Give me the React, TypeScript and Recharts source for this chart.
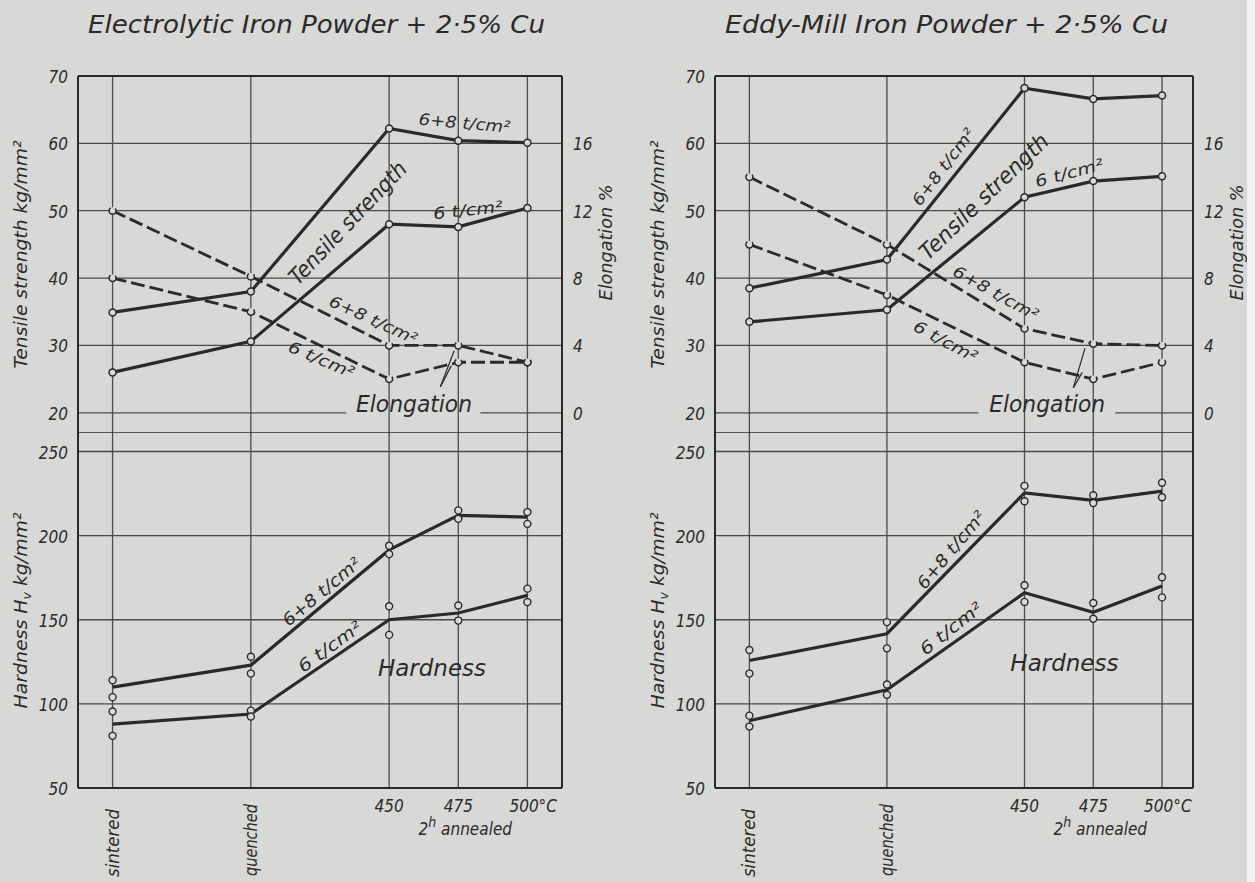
import React from "react";
import { ComposedChart, Line, Scatter, XAxis, YAxis, ReferenceLine, ReferenceDot } from "recharts";

// treatment stages along the bottom axis
const stageLabels = ["sintered", "quenched", "450", "475", "500°C"];
const stageX = [0, 2, 4, 5, 6];

const tsTicks = [20, 30, 40, 50, 60, 70];
const elongTicks = [0, 4, 8, 12, 16];
const hvTicks = [50, 100, 150, 200, 250];

// Electrolytic iron powder + 2.5% Cu
const elecTs68 = [34.9, 38.0, 62.2, 60.4, 60.1];
const elecTs6 = [26.0, 30.6, 48.0, 47.6, 50.4];
const elecElong68 = [12.0, 8.1, 4.0, 4.0, 3.0];
const elecElong6 = [8.0, 6.0, 2.0, 3.0, 3.0];
const elecHv68 = [110, 123, 191.5, 212, 211];
const elecHv6 = [88, 94, 150, 154, 164.5];
const elecHv68Single = [[114, 104], [128, 118], [194, 189], [215, 210], [214, 207]];
const elecHv6Single = [[95.5, 81], [96, 92.5], [158, 141], [158.5, 149.5], [168.5, 160.5]];

// Eddy-mill iron powder + 2.5% Cu
const eddyTs68 = [38.5, 42.75, 68.2, 66.6, 67.1];
const eddyTs6 = [33.5, 35.3, 52.0, 54.4, 55.1];
const eddyElong68 = [14.0, 10.0, 5.0, 4.1, 4.0];
const eddyElong6 = [10.0, 7.0, 3.0, 2.0, 3.0];
const eddyHv68 = [125.8, 141.7, 225.4, 221, 226.5];
const eddyHv6 = [90, 108.4, 166, 154.4, 170];
const eddyHv68Single = [[132, 118], [148.6, 133], [229.6, 220.4], [224, 219.4], [231.4, 222.8]];
const eddyHv6Single = [[93, 86.5], [111.5, 105.4], [170.5, 160.6], [160, 150.6], [175.3, 163.3]];

const BG = "#d8d8d6";
const INK = "#2a2a2a";
const GRID = "#4a4a4a";
const FONT = "'Liberation Sans Narrow', 'DejaVu Sans Condensed', 'Open Sans', Arial, sans-serif";

const TOP = 76;
const MID = 433;
const BOTTOM = 788;
const TS_DOMAIN = [17, 70];
const EL_DOMAIN = [-1.2, 20];
const HV_DOMAIN = [50, 261];

const rows = (vals: number[]) => vals.map((v, i) => ({ x: stageX[i], y: v }));
const singleRows = (pairs: number[][]) =>
  pairs.flatMap((p, i) => p.map((v) => ({ x: stageX[i], y: v })));

const dot = { r: 3.5, fill: BG, stroke: INK, strokeWidth: 1.5 };

function Note({ cx, cy, text, angle = 0, size = 16, length, base = false }: any) {
  return (
    <text
      x={cx}
      y={cy}
      transform={`rotate(${angle} ${cx} ${cy})`}
      textAnchor="middle"
      dominantBaseline={base ? "auto" : "central"}
      fontSize={size}
      fontStyle="italic"
      fontFamily={FONT}
      fill={INK}
      textLength={length}
      lengthAdjust={length ? "spacingAndGlyphs" : undefined}
    >
      {text}
    </text>
  );
}

const tickStyle = { fontSize: 17, fontStyle: "italic", fontFamily: FONT, fill: INK } as const;

const LeftTick = (p: any) => (
  <text x={p.x} y={p.y} dy={7} textAnchor="end" {...tickStyle}>
    {p.payload.value}
  </text>
);

const RightTick = (p: any) => (
  <text x={p.x} y={p.y} dy={7} textAnchor="start" {...tickStyle}>
    {p.payload.value}
  </text>
);

function StageTick(p: any) {
  const i = stageX.indexOf(p.payload.value);
  const label = stageLabels[i];
  if (i < 2) {
    const ax = p.x + 6;
    const ay = p.y + (i === 0 ? 21 : 16);
    return (
      <text
        x={ax}
        y={ay}
        transform={`rotate(-90 ${ax} ${ay})`}
        textAnchor="end"
        textLength={i === 0 ? 68 : 72}
        lengthAdjust="spacingAndGlyphs"
        {...tickStyle}
      >
        {label}
      </text>
    );
  }
  return (
    <g>
      <text x={i === 4 ? p.x - 18 : p.x} y={p.y + 24} textAnchor={i === 4 ? "start" : "middle"} {...tickStyle}>
        {label}
      </text>
      {i === 3 && (
        <text x={p.x + 7} y={p.y + 47} textAnchor="middle" {...tickStyle}>
          <tspan>2</tspan>
          <tspan dy={-8} fontSize={14}>h</tspan>
          <tspan dy={8}> annealed</tspan>
        </text>
      )}
    </g>
  );
}

type Label = { text: string; x: number; y: number; angle?: number; size?: number; length?: number };

type PanelProps = {
  title: string;
  titleX: number;
  titleW: number;
  plotLeft: number;
  plotRight: number;
  xMax: number;
  ts68: number[];
  ts6: number[];
  el68: number[];
  el6: number[];
  hv68: number[];
  hv6: number[];
  hv68Single: number[][];
  hv6Single: number[][];
  upperNotes: Label[];
  lowerNotes: Label[];
  elongNote: { x: number; y: number };
  gap: [number, number];
  arrows: { x: number; y: number }[][];
};

function Panel(props: PanelProps) {
  const { plotLeft, plotRight, xMax } = props;
  const plotW = plotRight - plotLeft;
  const xDomain = [-0.5, xMax];

  const frameX = [-0.5, xMax];

  return (
    <>
      <svg style={{ position: "absolute", left: 0, top: 0 }} width={1255} height={60}>
        <text
          x={props.titleX}
          y={33}
          fontSize={24}
          fontStyle="italic"
          fontFamily={FONT}
          fill={INK}
          textLength={props.titleW}
          lengthAdjust="spacingAndGlyphs"
        >
          {props.title}
        </text>
      </svg>

      {/* tensile strength and elongation */}
      <div style={{ position: "absolute", left: plotLeft - 70, top: TOP - 36 }}>
        <ComposedChart
          width={plotW + 140}
          height={MID - (TOP - 36)}
          margin={{ top: 36, right: 0, bottom: 0, left: 0 }}
        >
          <XAxis dataKey="x" type="number" domain={xDomain} ticks={stageX} allowDataOverflow hide />
          <YAxis
            yAxisId="ts"
            type="number"
            domain={TS_DOMAIN}
            ticks={tsTicks}
            allowDataOverflow
            width={70}
            axisLine={false}
            tickLine={false}
            tickSize={0}
            tickMargin={10}
            tick={LeftTick}
            label={{
              content: (p: any) => {
                const vb = p.viewBox;
                const x = vb.x + 19;
                const y = vb.y + vb.height / 2;
                return (
                  <text
                    x={x}
                    y={y}
                    transform={`rotate(-90 ${x} ${y})`}
                    textAnchor="middle"
                    textLength={228}
                    lengthAdjust="spacingAndGlyphs"
                    {...tickStyle}
                    fontSize={18}
                  >
                    Tensile strength  kg/mm²
                  </text>
                );
              },
            }}
          />
          <YAxis
            yAxisId="el"
            orientation="right"
            type="number"
            domain={EL_DOMAIN}
            ticks={elongTicks}
            allowDataOverflow
            width={70}
            axisLine={false}
            tickLine={false}
            tickSize={0}
            tickMargin={11}
            tick={RightTick}
            label={{
              content: (p: any) => {
                const vb = p.viewBox;
                const x = vb.x + 50;
                const y = vb.y + vb.height / 2 - 12;
                return (
                  <text
                    x={x}
                    y={y}
                    transform={`rotate(-90 ${x} ${y})`}
                    textAnchor="middle"
                    textLength={116}
                    lengthAdjust="spacingAndGlyphs"
                    {...tickStyle}
                  >
                    Elongation  %
                  </text>
                );
              },
            }}
          />

          {stageX.map((v) => (
            <ReferenceLine key={`v${v}`} yAxisId="ts" x={v} stroke={GRID} strokeWidth={1.3} />
          ))}
          {tsTicks.slice(1, -1).map((v) => (
            <ReferenceLine key={`h${v}`} yAxisId="ts" y={v} stroke={GRID} strokeWidth={1.3} />
          ))}
          <ReferenceLine
            yAxisId="ts"
            segment={[{ x: -0.5, y: 20 }, { x: props.gap[0], y: 20 }]}
            stroke={GRID}
            strokeWidth={1.3}
          />
          <ReferenceLine
            yAxisId="ts"
            segment={[{ x: props.gap[1], y: 20 }, { x: xMax, y: 20 }]}
            stroke={GRID}
            strokeWidth={1.3}
          />
          {frameX.map((v) => (
            <ReferenceLine key={`f${v}`} yAxisId="ts" x={v} stroke={INK} strokeWidth={2} />
          ))}
          <ReferenceLine yAxisId="ts" y={TS_DOMAIN[1]} stroke={INK} strokeWidth={2} />
          <ReferenceLine yAxisId="ts" y={TS_DOMAIN[0]} stroke={INK} strokeWidth={1.6} />

          {props.arrows.map((seg, i) => (
            <ReferenceLine key={`a${i}`} yAxisId="ts" segment={seg} stroke={INK} strokeWidth={1.2} />
          ))}

          <Line yAxisId="el" data={rows(props.el68)} dataKey="y" type="linear" stroke={INK} strokeWidth={2.8} strokeDasharray="14 5" dot={dot} isAnimationActive={false} />
          <Line yAxisId="el" data={rows(props.el6)} dataKey="y" type="linear" stroke={INK} strokeWidth={2.8} strokeDasharray="14 5" dot={dot} isAnimationActive={false} />
          <Line yAxisId="ts" data={rows(props.ts68)} dataKey="y" type="linear" stroke={INK} strokeWidth={3.2} dot={dot} isAnimationActive={false} />
          <Line yAxisId="ts" data={rows(props.ts6)} dataKey="y" type="linear" stroke={INK} strokeWidth={3.2} dot={dot} isAnimationActive={false} />

          {props.upperNotes.map((n, i) => (
            <ReferenceDot
              key={`n${i}`}
              yAxisId="ts"
              x={n.x}
              y={n.y}
              r={0}
              shape={(p: any) => <Note cx={p.cx} cy={p.cy} text={n.text} angle={n.angle} size={n.size} length={n.length} />}
            />
          ))}
          <ReferenceDot
            yAxisId="ts"
            x={props.elongNote.x}
            y={props.elongNote.y}
            r={0}
            shape={(p: any) => <Note cx={p.cx} cy={p.cy} text="Elongation" size={23} length={116} base />}
          />
        </ComposedChart>
      </div>

      {/* hardness */}
      <div style={{ position: "absolute", left: plotLeft - 70, top: MID }}>
        <ComposedChart
          width={plotW + 140}
          height={882 - MID}
          margin={{ top: 0, right: 70, bottom: 0, left: 0 }}
        >
          <XAxis
            dataKey="x"
            type="number"
            domain={xDomain}
            ticks={stageX}
            allowDataOverflow
            height={882 - BOTTOM}
            axisLine={false}
            tickLine={false}
            tickSize={0}
            tickMargin={0}
            tick={StageTick}
            interval={0}
          />
          <YAxis
            yAxisId="hv"
            type="number"
            domain={HV_DOMAIN}
            ticks={hvTicks}
            allowDataOverflow
            width={70}
            axisLine={false}
            tickLine={false}
            tickSize={0}
            tickMargin={10}
            tick={LeftTick}
            label={{
              content: (p: any) => {
                const vb = p.viewBox;
                const x = vb.x + 19;
                const y = vb.y + vb.height / 2;
                return (
                  <text
                    x={x}
                    y={y}
                    transform={`rotate(-90 ${x} ${y})`}
                    textAnchor="middle"
                    textLength={196}
                    lengthAdjust="spacingAndGlyphs"
                    {...tickStyle}
                    fontSize={18}
                  >
                    <tspan>Hardness  H</tspan>
                    <tspan dy={4} fontSize={12}>v</tspan>
                    <tspan dy={-4}>  kg/mm²</tspan>
                  </text>
                );
              },
            }}
          />

          {stageX.map((v) => (
            <ReferenceLine key={`v${v}`} yAxisId="hv" x={v} stroke={GRID} strokeWidth={1.3} />
          ))}
          {hvTicks.slice(1).map((v) => (
            <ReferenceLine key={`h${v}`} yAxisId="hv" y={v} stroke={GRID} strokeWidth={1.3} />
          ))}
          {frameX.map((v) => (
            <ReferenceLine key={`f${v}`} yAxisId="hv" x={v} stroke={INK} strokeWidth={2} />
          ))}
          <ReferenceLine yAxisId="hv" y={HV_DOMAIN[0]} stroke={INK} strokeWidth={2} />

          <Line yAxisId="hv" data={rows(props.hv68)} dataKey="y" type="linear" stroke={INK} strokeWidth={3.2} dot={false} isAnimationActive={false} />
          <Line yAxisId="hv" data={rows(props.hv6)} dataKey="y" type="linear" stroke={INK} strokeWidth={3.2} dot={false} isAnimationActive={false} />
          <Scatter
            yAxisId="hv"
            data={singleRows(props.hv68Single)}
            dataKey="y"
            isAnimationActive={false}
            shape={(p: any) => <circle cx={p.cx} cy={p.cy} r={3.5} fill={BG} stroke={INK} strokeWidth={1.4} />}
          />
          <Scatter
            yAxisId="hv"
            data={singleRows(props.hv6Single)}
            dataKey="y"
            isAnimationActive={false}
            shape={(p: any) => <circle cx={p.cx} cy={p.cy} r={3.5} fill={BG} stroke={INK} strokeWidth={1.4} />}
          />

          {props.lowerNotes.map((n, i) => (
            <ReferenceDot
              key={`n${i}`}
              yAxisId="hv"
              x={n.x}
              y={n.y}
              r={0}
              shape={(p: any) => <Note cx={p.cx} cy={p.cy} text={n.text} angle={n.angle} size={n.size} length={n.length} />}
            />
          ))}
        </ComposedChart>
      </div>
    </>
  );
}

export default function App() {
  return (
    <div
      style={{
        position: "absolute",
        left: 0,
        top: 0,
        width: 1255,
        height: 882,
        background: BG,
        overflow: "hidden",
      }}
    >
      <Panel
        title="Electrolytic Iron Powder + 2·5% Cu"
        titleX={88}
        titleW={457}
        plotLeft={78}
        plotRight={562}
        xMax={6.5}
        ts68={elecTs68}
        ts6={elecTs6}
        el68={elecElong68}
        el6={elecElong6}
        hv68={elecHv68}
        hv6={elecHv6}
        hv68Single={elecHv68Single}
        hv6Single={elecHv6Single}
        upperNotes={[
          { text: "6+8 t/cm²", x: 5.09, y: 63.0, angle: 5, size: 16, length: 92 },
          { text: "Tensile strength", x: 3.4, y: 48.2, angle: -46.5, size: 22, length: 160 },
          { text: "6 t/cm²", x: 5.14, y: 50.1, angle: -6, size: 16, length: 70 },
          { text: "6+8 t/cm²", x: 3.77, y: 33.8, angle: 24.5, size: 16, length: 95 },
          { text: "6 t/cm²", x: 3.02, y: 27.9, angle: 23, size: 16, length: 70 },
        ]}
        lowerNotes={[
          { text: "6+8 t/cm²", x: 3.02, y: 166.7, angle: -40, size: 17, length: 96 },
          { text: "6 t/cm²", x: 3.14, y: 134, angle: -36, size: 17, length: 74 },
          { text: "Hardness", x: 4.62, y: 121.5, angle: 0, size: 23, length: 108 },
        ]}
        elongNote={{ x: 4.36, y: 20.1 }}
        gap={[3.38, 5.32]}
        arrows={[
          [{ x: 4.74, y: 23.85 }, { x: 4.94, y: 29.2 }],
          [{ x: 4.74, y: 23.85 }, { x: 4.9, y: 27.0 }],
        ]}
      />
      <Panel
        title="Eddy-Mill Iron Powder + 2·5% Cu"
        titleX={725}
        titleW={443}
        plotLeft={715}
        plotRight={1193}
        xMax={6.45}
        ts68={eddyTs68}
        ts6={eddyTs6}
        el68={eddyElong68}
        el6={eddyElong6}
        hv68={eddyHv68}
        hv6={eddyHv6}
        hv68Single={eddyHv68Single}
        hv6Single={eddyHv6Single}
        upperNotes={[
          { text: "6+8 t/cm²", x: 2.82, y: 56.5, angle: -53, size: 16, length: 92 },
          { text: "Tensile strength", x: 3.41, y: 52.1, angle: -44, size: 22, length: 170 },
          { text: "6 t/cm²", x: 4.65, y: 55.6, angle: -15, size: 16, length: 70 },
          { text: "6+8 t/cm²", x: 3.58, y: 37.8, angle: 29, size: 16, length: 95 },
          { text: "6 t/cm²", x: 2.85, y: 30.6, angle: 28, size: 16, length: 70 },
        ]}
        lowerNotes={[
          { text: "6+8 t/cm²", x: 2.93, y: 191.5, angle: -50, size: 17, length: 96 },
          { text: "6 t/cm²", x: 2.93, y: 144.8, angle: -38, size: 17, length: 74 },
          { text: "Hardness", x: 4.58, y: 124, angle: 0, size: 23, length: 108 },
        ]}
        elongNote={{ x: 4.33, y: 20.1 }}
        gap={[3.33, 5.32]}
        arrows={[
          [{ x: 4.71, y: 23.7 }, { x: 4.88, y: 29.6 }],
          [{ x: 4.71, y: 23.7 }, { x: 4.84, y: 26.0 }],
        ]}
      />
      <div style={{ position: "absolute", left: 1247, top: 0, width: 8, height: 882, background: "#f2f2f0" }} />
    </div>
  );
}
